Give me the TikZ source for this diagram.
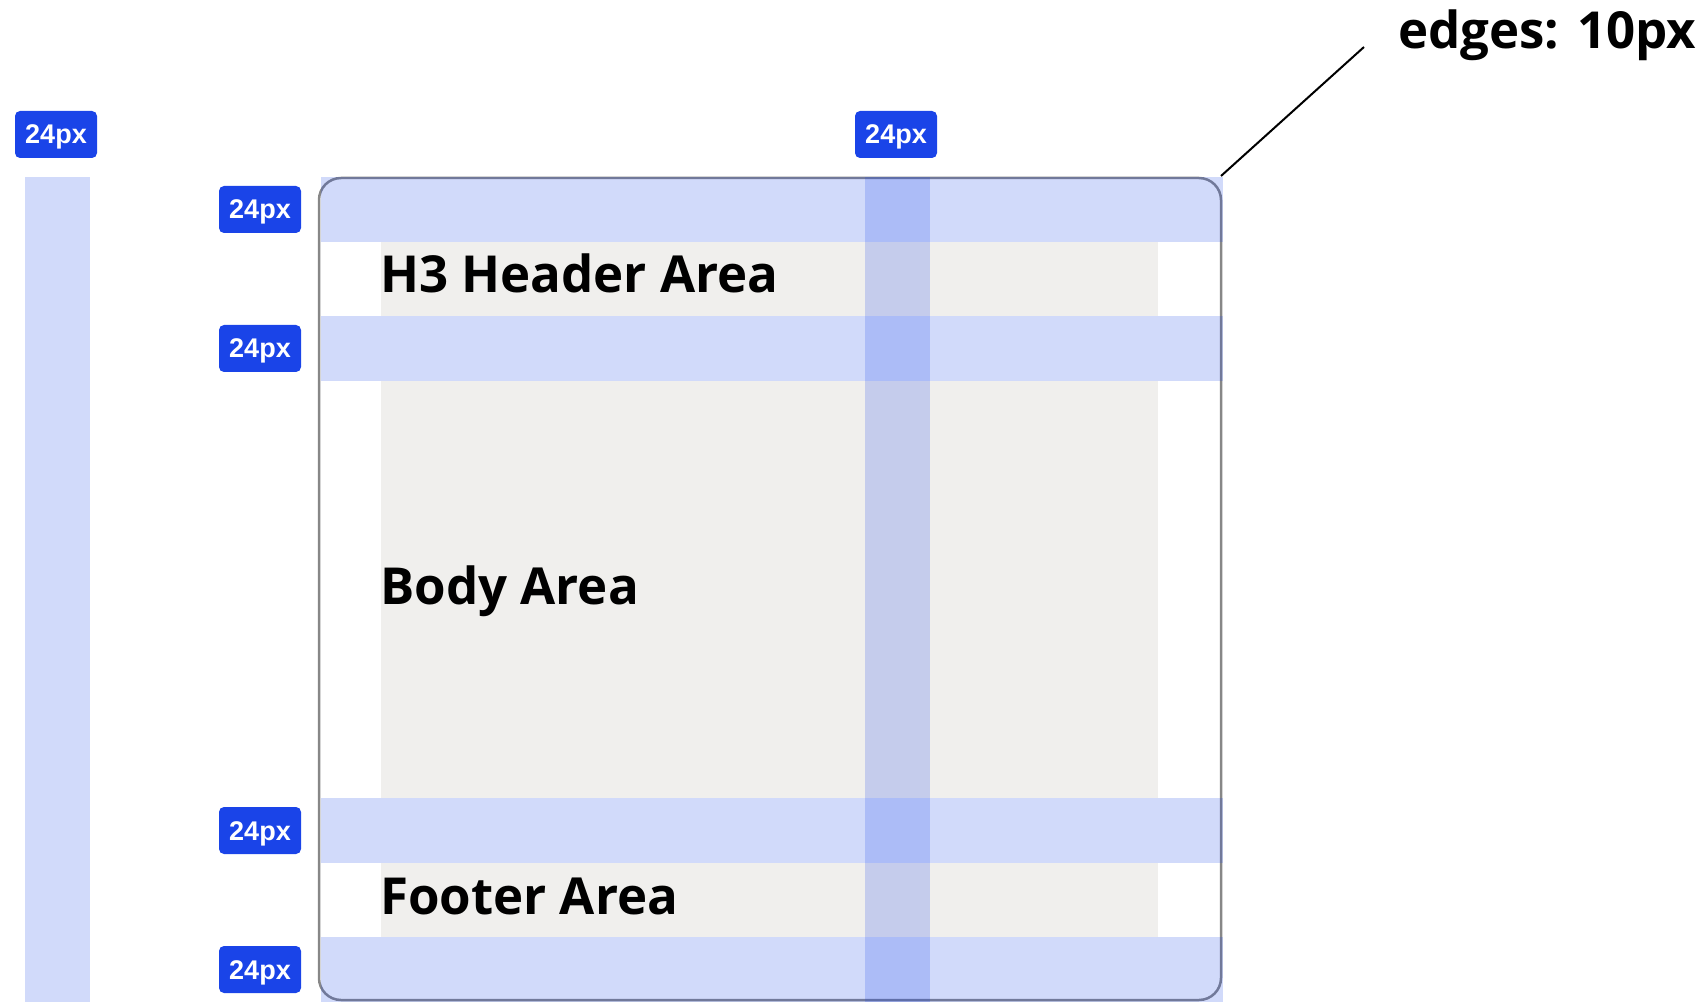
\documentclass[tikz,border=0pt]{standalone}
\usepackage{fontspec}
\setmainfont{Open Sans}
\newfontfamily\badgefont{Liberation Sans}
\usetikzlibrary{positioning,calc}

\definecolor{gridblue}{HTML}{1A44E8}
\definecolor{areagray}{HTML}{F0EFED}
\definecolor{cardline}{HTML}{878787}

\begin{document}
\begin{tikzpicture}[
  x=1pt, y=-1pt,
  band/.style={fill=gridblue, fill opacity=0.2},
  area/.style={fill=areagray},
  badge/.style={fill=gridblue, rounded corners=5pt, minimum width=82pt, minimum height=47pt, inner sep=0pt, text height=19pt, text depth=0pt, text=white, font=\badgefont\bfseries\fontsize{27}{30}\selectfont},
  title/.style={anchor=base west, inner sep=0pt, font=\bfseries\fontsize{51}{58}\selectfont}
]
\useasboundingbox (0,0) rectangle (1706,1008);

% card outline
\draw[cardline, line width=2.5pt, rounded corners=22pt] (319,178) rectangle (1221,1000);

% content areas
\fill[area] (381,242) rectangle (1158,316);
\fill[area] (381,381) rectangle (1158,798);
\fill[area] (381,863) rectangle (1158,937);

\node[title] (head) at (380,293) {H3 Header Area};
\node[title] (body) at (380,604) {Body Area};
\node[title] (foot) at (380,914) {Footer Area};

% spacing bands
\fill[band] (865,177) rectangle (930,1002);
\foreach \y in {177,316,798,937}
  \fill[band] (321,\y) rectangle (1223,\y+65);
\fill[band] (25,177) rectangle (90,1002);

% badges
\node[badge] (bleft) at (56,134.5) {24px};
\node[badge] (bcol) at (896,134.5) {24px};
\node[badge] (brow1) at (260,209.5) {24px};
\node[badge] (brow2) at (260,348.5) {24px};
\node[badge] (brow3) at (260,830.5) {24px};
\node[badge] (brow4) at (260,969.5) {24px};

% corner note
\node[anchor=base west, inner sep=0pt, font=\bfseries\fontsize{51}{58}\selectfont] (edgelbl) at (1398,49) {edges: 10px};
\coordinate (corner) at (1221,176);
\coordinate (leadend) at (1364,47);
\draw[line width=2pt] (corner) -- (leadend);

\end{tikzpicture}
\end{document}
